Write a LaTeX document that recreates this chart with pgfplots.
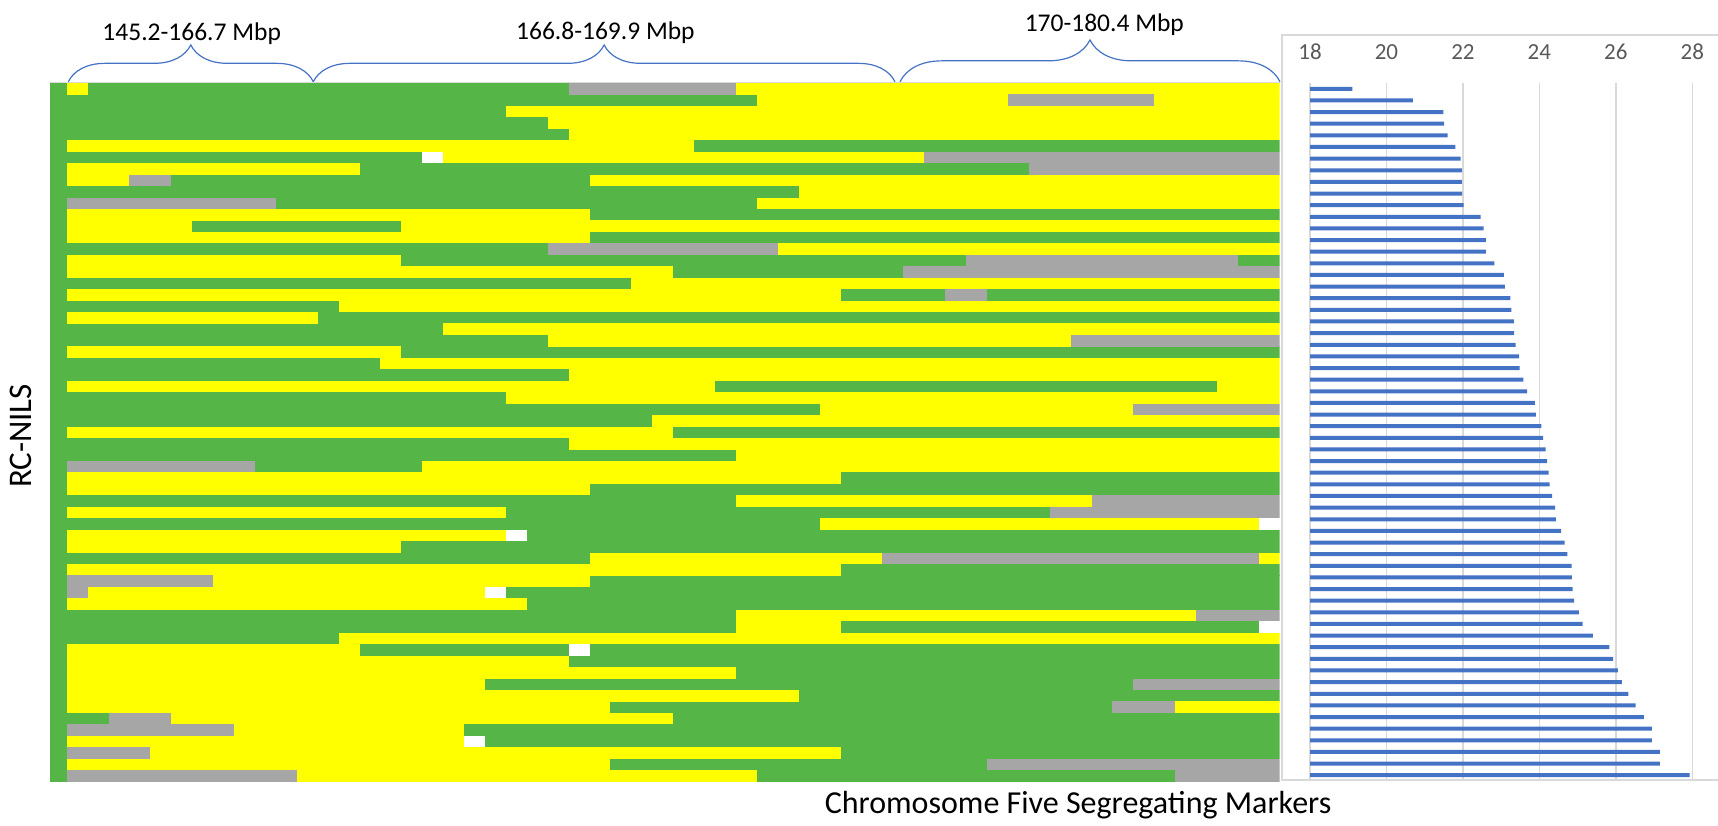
\documentclass[border=0pt]{standalone}
\usepackage{pgfplots}
\pgfplotsset{compat=1.18}
\usepackage{pgfplotstable}
\usepackage{fontspec}
\setmainfont{Carlito}
\usetikzlibrary{decorations.pathreplacing}

\definecolor{hmgreen}{RGB}{86,181,71}
\definecolor{hmyellow}{RGB}{255,255,0}
\definecolor{hmgray}{RGB}{166,166,166}
\definecolor{barblue}{RGB}{68,114,196}
\definecolor{gridgray}{RGB}{217,217,217}
\definecolor{ticktext}{RGB}{89,89,89}

% genotype segments per line: row, first marker, last marker
\pgfplotstableread{
r x0 x1
1 -0.8 0
1 1 24
2 -0.8 33
3 -0.8 21
4 -0.8 23
5 -0.8 24
6 -0.8 0
6 30 58
7 -0.8 17
8 -0.8 0
8 14 46
9 -0.8 0
9 5 25
10 -0.8 35
11 -0.8 0
11 10 33
12 -0.8 0
12 25 58
13 -0.8 0
13 6 16
14 -0.8 0
14 25 58
15 -0.8 23
16 -0.8 0
16 16 43
16 56 58
17 -0.8 0
17 29 40
18 -0.8 27
19 -0.8 0
19 37 42
19 44 58
20 -0.8 13
21 -0.8 0
21 12 58
22 -0.8 18
23 -0.8 23
24 -0.8 0
24 16 58
25 -0.8 15
26 -0.8 24
27 -0.8 0
27 31 55
28 -0.8 21
29 -0.8 36
30 -0.8 28
31 -0.8 0
31 29 58
32 -0.8 24
33 -0.8 32
34 -0.8 0
34 9 17
35 -0.8 0
35 37 58
36 -0.8 0
36 25 58
37 -0.8 32
38 -0.8 0
38 21 47
39 -0.8 36
40 -0.8 0
40 22 58
41 -0.8 0
41 16 58
42 -0.8 25
43 -0.8 0
43 37 58
44 -0.8 0
44 25 58
45 -0.8 0
45 21 58
46 -0.8 0
46 22 58
47 -0.8 32
48 -0.8 32
48 37 57
49 -0.8 13
50 -0.8 0
50 14 24
50 25 58
51 -0.8 0
51 24 58
52 -0.8 0
52 32 58
53 -0.8 0
53 20 51
54 -0.8 0
54 35 58
55 -0.8 0
55 26 50
56 -0.8 2
56 29 58
57 -0.8 0
57 19 58
58 -0.8 0
58 20 58
59 -0.8 0
59 37 58
60 -0.8 0
60 26 44
61 -0.8 0
61 33 53
}\greenseg

\pgfplotstableread{
r x0 x1
1 0 1
1 32 58
2 33 45
2 52 58
3 21 58
4 23 58
5 24 58
6 0 30
7 18 41
8 0 14
9 0 3
9 25 58
10 35 58
11 33 58
12 0 25
13 0 6
13 16 58
14 0 25
15 34 58
16 0 16
17 0 29
18 27 58
19 0 37
20 13 58
21 0 12
22 18 58
23 23 48
24 0 16
25 15 58
26 24 58
27 0 31
27 55 58
28 21 58
29 36 51
30 28 58
31 0 29
32 24 58
33 32 58
34 17 58
35 0 37
36 0 25
37 32 49
38 0 21
39 36 57
40 0 21
41 0 16
42 25 39
42 57 58
43 0 37
44 7 25
45 1 20
46 0 22
47 32 54
48 32 37
49 13 58
50 0 14
51 0 24
52 0 32
53 0 20
54 0 35
55 0 26
55 53 58
56 5 29
57 8 19
58 0 19
59 4 37
60 0 26
61 11 33
}\yellowseg

\pgfplotstableread{
r x0 x1
1 24 32
2 45 52
7 41 58
8 46 58
9 3 5
11 0 10
15 23 34
16 43 56
17 40 58
19 42 44
23 48 58
29 51 58
34 0 9
37 49 58
38 47 58
42 39 57
44 0 7
45 0 1
47 54 58
53 51 58
55 50 53
56 2 5
57 0 8
59 0 4
60 44 58
61 0 11
61 53 58
}\grayseg

\pgfplotstableread{
r x0 x1
7 17 18
39 57 58
40 21 22
45 20 21
48 57 58
50 24 25
58 19 20
}\whiteseg

% segregating marker counts, one bar per line
\pgfplotstableread{
i v
1 19.11
2 20.69
3 21.49
4 21.51
5 21.60
6 21.80
7 21.94
8 21.97
9 21.97
10 21.98
11 22.02
12 22.46
13 22.54
14 22.60
15 22.60
16 22.82
17 23.07
18 23.10
19 23.24
20 23.27
21 23.33
22 23.34
23 23.38
24 23.47
25 23.48
26 23.58
27 23.68
28 23.88
29 23.91
30 24.05
31 24.10
32 24.16
33 24.20
34 24.24
35 24.27
36 24.33
37 24.41
38 24.43
39 24.57
40 24.66
41 24.73
42 24.84
43 24.85
44 24.87
45 24.91
46 25.03
47 25.13
48 25.40
49 25.83
50 25.93
51 26.05
52 26.16
53 26.33
54 26.52
55 26.73
56 26.94
57 26.94
58 27.15
59 27.15
60 27.93
}\barvals

\newcommand{\rowh}{11.55pt}
\pgfplotsset{
  segment/.style={
    quiver={u=\thisrow{x1}-\thisrow{x0}, v=0},
    line width=\rowh, line cap=butt, -,
    quiver/every arrow/.append style={line width=\rowh, line cap=butt}
  }
}

\begin{document}
\begin{tikzpicture}
\useasboundingbox (0,0) rectangle (1718pt,825pt);

% frame of the marker-count panel
\draw[gridgray, line width=1.3pt] (1282pt,790pt) rectangle (1740pt,45pt);

% thin rule above the genotype grid
\draw[gridgray, line width=1pt] (50pt,742.3pt) -- (1280pt,742.3pt);

\begin{axis}[
  at={(50pt,43.3pt)}, anchor=south west,
  scale only axis, width=1229.7pt, height=698.7pt,
  xmin=-0.8, xmax=58, ymin=0.5, ymax=61.5, y dir=reverse,
  hide axis,
]
\addplot[segment, draw=hmgreen] table[x=x0, y=r] {\greenseg};
\addplot[segment, draw=hmyellow] table[x=x0, y=r] {\yellowseg};
\addplot[segment, draw=hmgray] table[x=x0, y=r] {\grayseg};
\addplot[segment, draw=white] table[x=x0, y=r] {\whiteseg};
\end{axis}

\begin{axis}[
  at={(1310pt,44pt)}, anchor=south west,
  scale only axis, width=382.3pt, height=698pt,
  xmin=18, xmax=28, ymin=0.5, ymax=60.5, y dir=reverse,
  xbar, bar width=4pt,
  axis line style={draw=none},
  xtick={18,20,22,24,26,28}, ytick=\empty,
  major tick length=0pt,
  xmajorgrids, grid style={gridgray, line width=1.6pt},
  xticklabel pos=upper,
  /pgf/number format/assume math mode=true,
  xticklabel style={font=\fontsize{23pt}{27pt}\selectfont, text=ticktext,
    anchor=south, inner sep=0pt, yshift=23pt},
]
\addplot[fill=barblue, draw=none] table[x=v, y=i] {\barvals};
\end{axis}

% position ranges along chromosome five
\begin{scope}[barblue, line width=1.2pt]
\draw[decorate, decoration={brace, amplitude=36.7pt}] (68.3pt,743.3pt) -- (313.3pt,743.3pt);
\draw[decorate, decoration={brace, amplitude=36.7pt}] (313.3pt,743.3pt) -- (895pt,743.3pt);
\draw[decorate, decoration={brace, amplitude=41.7pt}] (900pt,743.3pt) -- (1280pt,743.3pt);
\end{scope}
\begin{scope}[every node/.style={font=\fontsize{25.5pt}{30pt}\selectfont, inner sep=0pt, anchor=base}]
\node at (191.7pt,784pt) {145.2-166.7 Mbp};
\node at (605.4pt,785.6pt) {166.8-169.9 Mbp};
\node at (1104.3pt,793.3pt) {170-180.4 Mbp};
\end{scope}

\node[rotate=90, inner sep=0pt, font=\fontsize{33pt}{38pt}\selectfont] at (20.5pt,389pt) {RC-NILS};
\node[anchor=base, inner sep=0pt, font=\fontsize{32pt}{38pt}\selectfont] at (1078pt,12pt) {Chromosome Five Segregating Markers};
\end{tikzpicture}
\end{document}
